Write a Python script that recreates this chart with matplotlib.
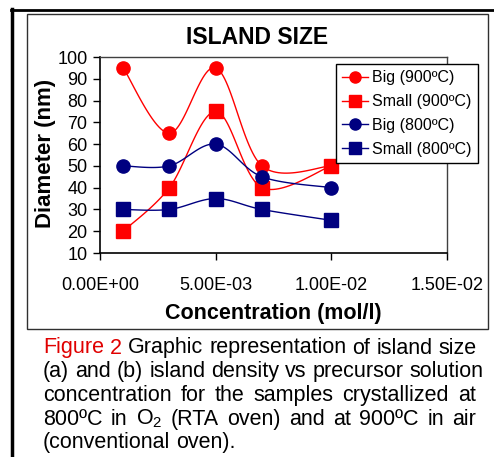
import matplotlib.pyplot as plt
import numpy as np
from matplotlib.lines import Line2D
from matplotlib.patches import Rectangle

plt.rcParams['font.family'] = ['Liberation Sans', 'DejaVu Sans']
plt.rcParams['mathtext.fontset'] = 'custom'
plt.rcParams['mathtext.rm'] = 'Liberation Sans'

# --- Data --- #
conc = [1e-3, 3e-3, 5e-3, 7e-3, 1e-2]
big_900 = [95, 65, 95, 50, 50]
small_900 = [20, 40, 75, 40, 50]
big_800 = [50, 50, 60, 45, 40]
small_800 = [30, 30, 35, 30, 25]
series_names = ['Big (900\u00baC)', 'Small (900\u00baC)',
                'Big (800\u00baC)', 'Small (800\u00baC)']
x_ticks = [0.0, 5e-3, 1e-2, 1.5e-2]
x_ticklabels = ['0.00E+00', '5.00E-03', '1.00E-02', '1.50E-02']
y_ticks = list(range(10, 101, 10))

caption = [
    'Figure 2 Graphic representation of island size',
    '(a) and (b) island density vs precursor solution',
    'concentration for the samples crystallized at',
    '800\u00baC in O$_2$ (RTA oven) and at 900\u00baC in air',
    '(conventional oven).',
]

W, H = 494, 457
RED = '#ff0000'
NAVY = '#000080'


def fx(px):
    return px / W


def fy(py):
    return 1 - py / H


def smooth(xs, ys, n=30):
    """Excel-style smoothed line (Catmull-Rom through Bezier segments)."""
    p = np.column_stack([xs, ys]).astype(float)
    p_ext = np.vstack([p[0], p, p[-1]])
    out = []
    t = np.linspace(0, 1, n)[:, None]
    for i in range(len(p) - 1):
        p0, p1, p2, p3 = p_ext[i], p_ext[i + 1], p_ext[i + 2], p_ext[i + 3]
        c1 = p1 + (p2 - p0) / 6
        c2 = p2 - (p3 - p1) / 6
        seg = ((1 - t) ** 3 * p1 + 3 * (1 - t) ** 2 * t * c1
               + 3 * (1 - t) * t ** 2 * c2 + t ** 3 * p2)
        out.append(seg if i == 0 else seg[1:])
    out = np.vstack(out)
    return out[:, 0], out[:, 1]


fig = plt.figure(figsize=(W / 100, H / 100), dpi=100)

# frames around the figure and the chart
fig.add_artist(Line2D([fx(12), fx(12)], [fy(9), 0], color='black', lw=2.5))
fig.add_artist(Line2D([fx(11), 1], [fy(10), fy(10)], color='black', lw=2))
fig.add_artist(Rectangle((fx(27), fy(329)), fx(488) - fx(27),
                         fy(14) - fy(329), fill=False, edgecolor='#303030',
                         lw=1))

ax = fig.add_axes([fx(100), fy(253), fx(447) - fx(100), fy(57) - fy(253)])

series = [
    (big_900, RED, 'o'),
    (small_900, RED, 's'),
    (big_800, NAVY, 'o'),
    (small_800, NAVY, 's'),
]
handles = []
for (vals, col, mk), name in zip(series, series_names):
    sx, sy = smooth(conc, vals)
    ax.plot(sx, sy, color=col, lw=1.0, zorder=2)
    ax.plot(conc, vals, linestyle='none', marker=mk, markersize=9.5,
            color=col, zorder=3)
    handles.append(Line2D([], [], color=col, lw=1.0, marker=mk,
                          markersize=8, label=name))

ax.set_xlim(0, 1.5e-2)
ax.set_ylim(10, 100)
ax.set_xticks(x_ticks)
ax.set_xticklabels(x_ticklabels)
ax.set_yticks(y_ticks)
ax.tick_params(axis='both', direction='out', length=5, width=1,
               labelsize=13, pad=4)
ax.tick_params(axis='x', pad=12)
for side in ('top', 'right'):
    ax.spines[side].set_color('#404040')
    ax.spines[side].set_linewidth(1)
for side in ('left', 'bottom'):
    ax.spines[side].set_linewidth(1.2)

fig.text(fx(273), fy(313), 'Concentration (mol/l)', fontsize=15.5,
         fontweight='bold', ha='center', va='center')
fig.text(fx(45), fy(153), 'Diameter (nm)', fontsize=16, fontweight='bold',
         ha='center', va='center', rotation=90)
fig.text(fx(257), fy(38), 'ISLAND SIZE', fontsize=16.5, fontweight='bold',
         ha='center', va='center')

leg = fig.legend(handles=handles, loc='upper left',
                 bbox_to_anchor=(fx(336), fy(64)),
                 bbox_transform=fig.transFigure, fontsize=11.5,
                 frameon=True, fancybox=False, edgecolor='black',
                 framealpha=1, borderaxespad=0, handlelength=1.6,
                 handletextpad=0.25, labelspacing=0.55, borderpad=0.4)
leg.get_frame().set_linewidth(1)

# caption, justified like the original text block
cap_left, cap_right = 43, 476
cap_y0, cap_dy = 348, 23.7
cap_size = 15.5
fig.canvas.draw()
renderer = fig.canvas.get_renderer()
for i, line in enumerate(caption):
    words = line.split(' ')
    y = fy(cap_y0 + i * cap_dy)
    texts = []
    for j, w in enumerate(words):
        col = '#e00000' if (i == 0 and j < 2) else 'black'
        texts.append(fig.text(0, y, w, color=col, fontsize=cap_size,
                              va='center'))
    widths = [t.get_window_extent(renderer).width for t in texts]
    space = fig.text(0, 0, 'a a', fontsize=cap_size)
    sp = space.get_window_extent(renderer).width
    space.remove()
    a = fig.text(0, 0, 'aa', fontsize=cap_size)
    sp -= a.get_window_extent(renderer).width
    a.remove()
    if i < len(caption) - 1 and len(words) > 1:
        gap = (cap_right - cap_left - sum(widths)) / (len(words) - 1)
        gap = max(gap, sp)
    else:
        gap = sp
    xpos = cap_left
    for t, wd in zip(texts, widths):
        t.set_x(fx(xpos))
        xpos += wd + gap

fig.savefig('out.png', dpi=100)
